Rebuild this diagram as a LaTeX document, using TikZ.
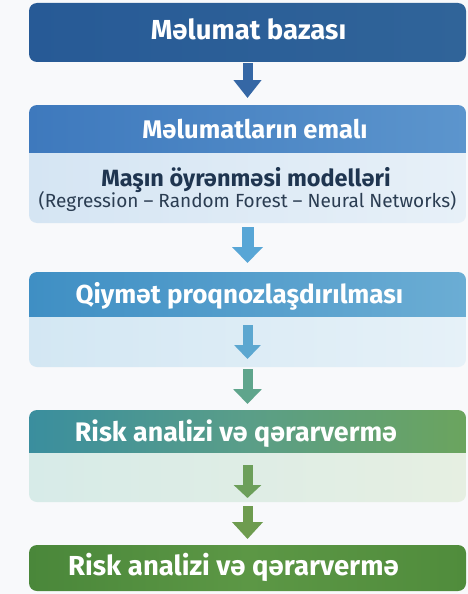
\documentclass[tikz,border=0pt]{standalone}
\usepackage{fontspec}
\setmainfont{Fira Sans}
\usetikzlibrary{arrows.meta}

% palette
\definecolor{pagebg}{HTML}{F8F9FB}
\definecolor{dbL}{HTML}{275A96}
\definecolor{dbR}{HTML}{306499}
\definecolor{procL}{HTML}{3E79BD}
\definecolor{procR}{HTML}{5C95CD}
\definecolor{procBodyL}{HTML}{D5E5F3}
\definecolor{procBodyR}{HTML}{E7F0F8}
\definecolor{priceL}{HTML}{3F8FC4}
\definecolor{priceR}{HTML}{6BADD4}
\definecolor{priceBodyL}{HTML}{D3E7F3}
\definecolor{priceBodyR}{HTML}{E6F1F8}
\definecolor{riskL}{HTML}{3A8E9E}
\definecolor{riskM}{HTML}{5A9E88}
\definecolor{riskR}{HTML}{6BA45E}
\definecolor{riskBodyL}{HTML}{D7EBE8}
\definecolor{riskBodyR}{HTML}{E6EFE2}
\definecolor{finalL}{HTML}{4A873A}
\definecolor{finalM}{HTML}{5C9745}
\definecolor{finalR}{HTML}{508C3C}
\definecolor{bodytext}{HTML}{1F3550}
\definecolor{subtext}{HTML}{2B3D52}
\definecolor{arrA}{HTML}{3567A5}
\definecolor{arrB}{HTML}{58A6D6}
\definecolor{arrC}{HTML}{5CA7D0}
\definecolor{arrD}{HTML}{5FA58C}
\definecolor{arrE}{HTML}{6C9F5A}
\definecolor{arrF}{HTML}{6E9C4F}

\tikzset{
  boxshape/.style={minimum width=437pt, inner sep=0pt, outer sep=0pt},
  title/.style={text=white, font=\bfseries\fontsize{25.5}{28}\selectfont, inner sep=0pt, anchor=base},
  flowarrow/.style={line width=10pt, -{Triangle[width=28pt,length=16pt]}},
}

\begin{document}
\begin{tikzpicture}[x=1pt,y=-1pt]
\useasboundingbox (0,0) rectangle (468,594);
\fill[pagebg] (0,0) rectangle (468,594);

% --- database ---
\node[boxshape, minimum height=59pt, rounded corners=8pt,
      left color=dbL, right color=dbR] (dbbox) at (247.5,32.5) {};
\node[title, font=\bfseries\fontsize{27.5}{30}\selectfont] (dbtext) at (248.5,40) {Məlumat bazası};

% --- data processing ---
\begin{scope}
  \clip[rounded corners=8pt] (29,105) rectangle (466,223);
  \shade[left color=procL, right color=procR] (29,105) rectangle (466,153);
  \shade[left color=procBodyL, right color=procBodyR] (29,153) rectangle (466,223);
\end{scope}
\node[boxshape, minimum height=48pt] (prochead) at (247.5,129) {};
\node[boxshape, minimum height=70pt] (procbody) at (247.5,188) {};
\node[title] (proctext) at (255,138) {Məlumatların emalı};
\node[inner sep=0pt, anchor=base, text=bodytext, font=\bfseries\fontsize{23.5}{26}\selectfont] (mltext) at (246,186) {Maşın öyrənməsi modelləri};
\node[inner sep=0pt, anchor=base, text=subtext, font=\fontsize{19}{22}\selectfont] (algtext) at (247.5,207) {(Regression – Random Forest – Neural Networks)};

% --- price forecasting ---
\begin{scope}
  \clip[rounded corners=8pt] (29,272) rectangle (466,367);
  \shade[left color=priceL, right color=priceR] (29,272) rectangle (466,317);
  \shade[left color=priceBodyL, right color=priceBodyR] (29,317) rectangle (466,367);
\end{scope}
\node[boxshape, minimum height=45pt] (pricehead) at (247.5,294.5) {};
\node[boxshape, minimum height=50pt] (pricebody) at (247.5,342) {};
\node[title, font=\bfseries\fontsize{26}{29}\selectfont] (pricetext) at (239.5,303) {Qiymət proqnozlaşdırılması};

% --- risk analysis ---
\begin{scope}
  \clip[rounded corners=8pt] (29,410) rectangle (466,502);
  \shade[left color=riskL, right color=riskR, middle color=riskM] (29,410) rectangle (466,453);
  \shade[left color=riskBodyL, right color=riskBodyR] (29,453) rectangle (466,502);
\end{scope}
\node[boxshape, minimum height=43pt] (riskhead) at (247.5,431.5) {};
\node[boxshape, minimum height=49pt] (riskbody) at (247.5,477.5) {};
\node[title, font=\bfseries\fontsize{26.8}{29}\selectfont] (risktext) at (236,441) {Risk analizi və qərarvermə};

% --- final decision ---
\node[boxshape, minimum height=46pt, rounded corners=8pt,
      left color=finalL, right color=finalR, middle color=finalM] (finalbox) at (247.5,568) {};
\node[title, font=\bfseries\fontsize{27.5}{30}\selectfont] (finaltext) at (233.5,575) {Risk analizi və qərarvermə};

% --- connectors ---
\draw[flowarrow, draw=arrA, shorten <=1pt, shorten >=7pt,
      -{Triangle[width=27pt,length=18pt]}] (dbbox.south) -- (prochead.north);
\draw[flowarrow, draw=arrB, line width=12pt, shorten <=4pt, shorten >=9pt,
      -{Triangle[width=30pt,length=16pt]}] (procbody.south) -- (pricehead.north);
\draw[flowarrow, draw=arrC, shorten <=8pt, shorten >=8pt,
      -{Triangle[width=26pt,length=14pt]}] (pricebody.north) -- (pricebody.south);
\draw[flowarrow, draw=arrD, shorten <=2pt, shorten >=6pt,
      -{Triangle[width=28pt,length=15pt]}] (pricebody.south) -- (riskhead.north);
\draw[flowarrow, draw=arrE, shorten <=12pt, shorten >=4pt,
      -{Triangle[width=27pt,length=13pt]}] (riskbody.north) -- (riskbody.south);
\draw[flowarrow, draw=arrF, shorten <=4pt, shorten >=6pt,
      -{Triangle[width=30pt,length=17pt]}] (riskbody.south) -- (finalbox.north);
\end{tikzpicture}
\end{document}
